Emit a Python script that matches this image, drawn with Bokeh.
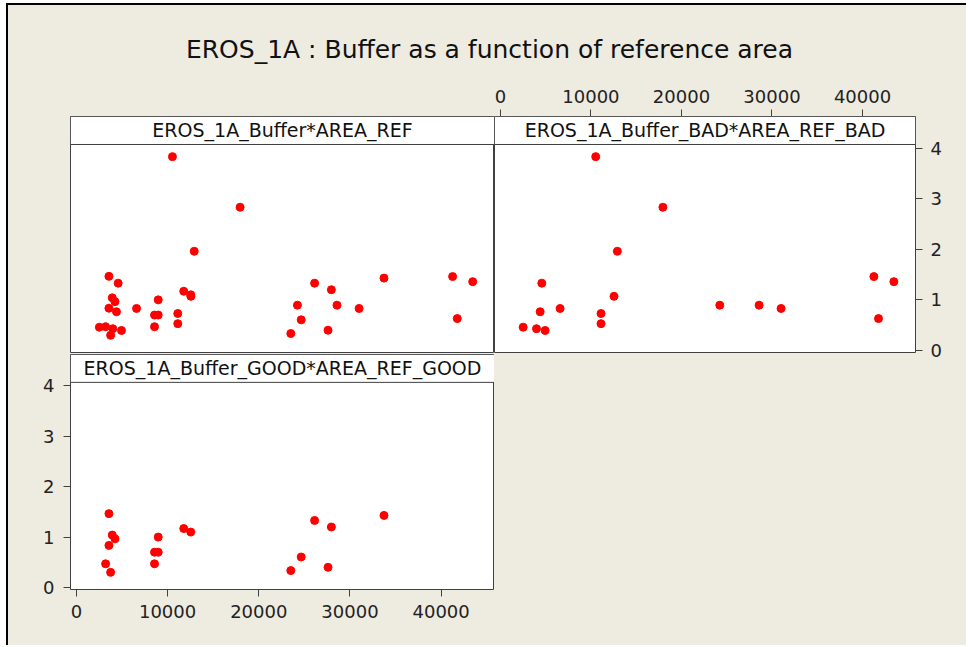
from bokeh.plotting import figure
from bokeh.layouts import column, row
from bokeh.models import Range1d, FixedTicker, LinearAxis, BoxAnnotation, Label, Spacer
from bokeh.embed import file_html
from bokeh.resources import INLINE

# ---- data ----
good_area = [3565, 3930, 4230, 3565, 3200, 3750, 8565, 8970, 8970, 8565,
             11770, 12540, 23510, 24650, 26120, 27960, 27595, 33730]
good_buffer = [1.465, 1.04, 0.965, 0.835, 0.47, 0.30, 0.70, 0.70, 1.00, 0.47,
               1.17, 1.10, 0.335, 0.605, 1.33, 1.20, 0.40, 1.43]

bad_area = [2515, 3990, 4940, 4390, 4575, 6595, 10530, 11115, 11115, 12550,
            12920, 17950, 24235, 28575, 31000, 41255, 41765, 43460]
bad_buffer = [0.46, 0.43, 0.395, 0.765, 1.33, 0.83, 3.83, 0.73, 0.53, 1.07,
              1.96, 2.83, 0.895, 0.895, 0.83, 1.46, 0.63, 1.36]

all_area = good_area + bad_area
all_buffer = good_buffer + bad_buffer

x_ticks = [0, 10000, 20000, 30000, 40000]
y_ticks = [0, 1, 2, 3, 4]

title_text = "EROS_1A : Buffer as a function of reference area"
strip_all = "EROS_1A_Buffer*AREA_REF"
strip_bad = "EROS_1A_Buffer_BAD*AREA_REF_BAD"
strip_good = "EROS_1A_Buffer_GOOD*AREA_REF_GOOD"

# ---- style / geometry ----
BG = "#EEEBE1"
LINE = "#404040"
FONT = "DejaVu Sans"
X0, X1 = -650, 45850
Y0, YPLOT_TOP, Y1 = -0.04, 4.07, 4.623


def style_axis(ax, standoff):
    ax.axis_line_color = None
    ax.major_tick_line_color = LINE
    ax.major_tick_out = 7
    ax.major_tick_in = 0
    ax.minor_tick_line_color = None
    ax.major_label_text_font = FONT
    ax.major_label_text_font_size = "18px"
    ax.major_label_text_color = "#222222"
    ax.major_label_standoff = standoff


def panel(xs, ys, label, width, height, mbl, mbr, mbt, mbb):
    p = figure(width=width, height=height,
               x_range=Range1d(X0, X1), y_range=Range1d(Y0, Y1),
               x_axis_location=None, y_axis_location=None,
               output_backend="svg", toolbar_location=None,
               min_border_left=mbl, min_border_right=mbr,
               min_border_top=mbt, min_border_bottom=mbb)
    p.grid.visible = False
    p.background_fill_color = "white"
    p.border_fill_color = BG
    p.outline_line_color = LINE
    p.outline_line_width = 1
    strip = BoxAnnotation(left=X0, right=X1, bottom=YPLOT_TOP, top=Y1,
                          fill_color="white", fill_alpha=1.0,
                          line_color=LINE, line_alpha=1.0, line_width=1)
    p.add_layout(strip)
    p.add_layout(Label(x=(X0 + X1) / 2, y=(YPLOT_TOP + Y1) / 2, text=label,
                       text_align="center", text_baseline="middle",
                       text_font=FONT, text_font_size="19px",
                       text_color="#111111"))
    p.scatter(xs, ys, size=8, color="#FF0000", line_color="#FF0000")
    return p


# title figure
title_fig = figure(width=958, height=71, x_range=Range1d(0, 958), y_range=Range1d(0, 71),
                   x_axis_location=None, y_axis_location=None,
                   output_backend="svg", toolbar_location=None,
                   min_border=0)
title_fig.grid.visible = False
title_fig.outline_line_color = None
title_fig.background_fill_color = BG
title_fig.border_fill_color = BG
title_fig.add_layout(Label(x=481, y=27, text=title_text, text_align="center",
                           text_baseline="middle", text_font=FONT,
                           text_font_size="25px", text_color="#111111"))

# top-left: all data, no axes
p_all = panel(all_area, all_buffer, strip_all, 486, 277, 62, 0, 40, 1)

# top-right: BAD, axes above and right
p_bad = panel(bad_area, bad_buffer, strip_bad, 472, 297, 0, 51, 40, 21)
ax_top = LinearAxis(ticker=FixedTicker(ticks=x_ticks))
style_axis(ax_top, 7)
p_bad.add_layout(ax_top, "above")
ax_right = LinearAxis(ticker=FixedTicker(ticks=y_ticks))
style_axis(ax_right, 8)
p_bad.add_layout(ax_right, "right")

# bottom-left: GOOD, axes left and below
p_good = panel(good_area, good_buffer, strip_good, 486, 292, 62, 0, 1, 56)
ax_bottom = LinearAxis(ticker=FixedTicker(ticks=x_ticks))
style_axis(ax_bottom, 8)
p_good.add_layout(ax_bottom, "below")
ax_left = LinearAxis(ticker=FixedTicker(ticks=y_ticks))
style_axis(ax_left, 9)
p_good.add_layout(ax_left, "left")

layout = column(
    title_fig,
    row(column(p_all, p_good), column(p_bad, Spacer(width=472, height=272))),
    margin=(3, 0, 0, 6),
    styles={"background-color": BG,
            "border-left": "2px solid black",
            "border-top": "2px solid black",
            "border-right": "0px none",
            "border-bottom": "0px none"},
)

open("out.html", "w").write(file_html(layout, INLINE))
